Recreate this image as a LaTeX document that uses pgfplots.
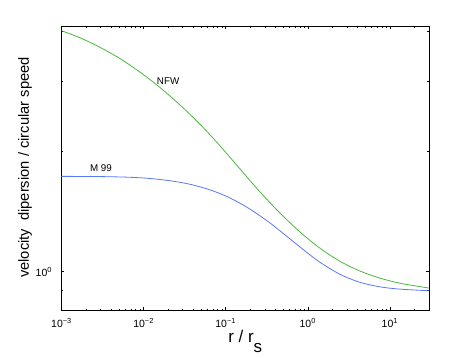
\documentclass[border=0pt]{standalone}
\usepackage{fontspec}
\setmainfont{Liberation Sans}
\usepackage{pgfplots}
\pgfplotsset{compat=1.18}
\definecolor{NFWgreen}{HTML}{4CB93C}
\definecolor{MBlue}{HTML}{5A78F5}

\begin{document}
\begin{tikzpicture}
\path[use as bounding box] (-61.5pt,-46.7pt) rectangle (412.5pt,310.3pt);
\begin{axis}[
  scale only axis,
  width=367.5pt, height=283.8pt,
  xmode=log, ymode=log,
  xmin=0.001, xmax=30,
  ymin=0.8, ymax=4.1,
  xtick={0.001,0.01,0.1,1,10},
  xticklabels={10\textsuperscript{−3},10\textsuperscript{−2},10\textsuperscript{−1},10\textsuperscript{0},10\textsuperscript{1}},
  minor xtick={0.002,0.003,0.004,0.005,0.006,0.007,0.008,0.009,
               0.02,0.03,0.04,0.05,0.06,0.07,0.08,0.09,
               0.2,0.3,0.4,0.5,0.6,0.7,0.8,0.9,
               2,3,4,5,6,7,8,9,20,30},
  ytick={1},
  yticklabels={10\textsuperscript{0}},
  minor ytick={0.8,0.9,2,3,4},
  tick align=inside,
  xtick pos=both, ytick pos=both,
  major tick length=3pt, minor tick length=1.8pt,
  axis line style={line width=0.6pt},
  every tick/.style={black, line width=0.5pt},
  ticklabel style={font=\fontsize{10.5}{12}\selectfont},
  xticklabel style={anchor=base, yshift=-17pt},
  yticklabel style={xshift=-6pt},
  xlabel={r / r\raisebox{-0.55em}{s}},
  xlabel style={font=\fontsize{17}{18}\selectfont, at={(axis description cs:0.5,-0.115)}, anchor=base},
  ylabel={velocity\ \ dipersion / circular speed},
  ylabel style={font=\fontsize{14.7}{16}\selectfont, at={(axis description cs:-0.099,0.503)}, anchor=center},
  every axis plot/.append style={line width=0.8pt, no marks},
]
% NFW
\addplot[color=NFWgreen, smooth] coordinates {
  (0.001,4.002) (0.001680,3.843) (0.002943,3.638) (0.005159,3.409) (0.009041,3.153)
  (0.01584,2.886) (0.02775,2.610) (0.04864,2.336) (0.08522,2.063) (0.1493,1.806)
  (0.2617,1.582) (0.4585,1.401) (0.8035,1.256) (1.408,1.144) (2.467,1.061)
  (4.323,1.003) (7.574,0.9630) (13.27,0.9351) (30,0.9093)};
% M 99
\addplot[color=MBlue, smooth] coordinates {
  (0.001,1.730) (0.002943,1.728) (0.006829,1.721) (0.01197,1.709) (0.02097,1.687)
  (0.03675,1.653) (0.06438,1.601) (0.1128,1.528) (0.1977,1.433) (0.3464,1.323)
  (0.6069,1.207) (0.9245,1.126) (1.408,1.055) (2.467,0.9843) (4.323,0.9399)
  (7.574,0.9158) (13.27,0.9038) (30,0.8953)};
\node[font=\fontsize{9.8}{11}\selectfont] at (axis cs:0.0199,2.99) {NFW};
\node[font=\fontsize{9.8}{11}\selectfont] at (axis cs:0.00303,1.817) {M 99};
\end{axis}
\end{tikzpicture}
\end{document}
